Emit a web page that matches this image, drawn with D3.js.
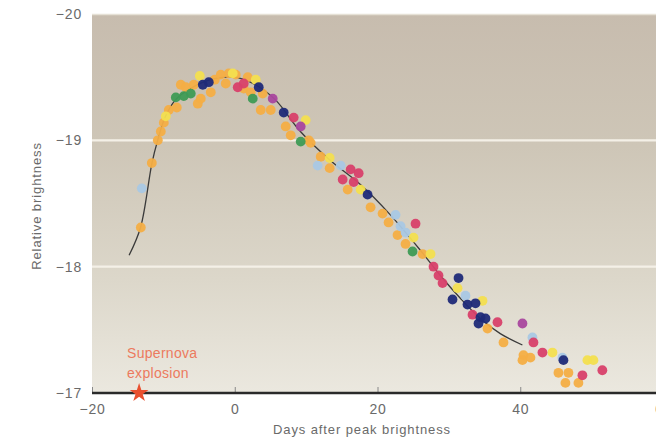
<!DOCTYPE html>
<html><head><meta charset="utf-8">
<script src="https://cdn.jsdelivr.net/npm/d3@7/dist/d3.min.js"></script>
<style>
html,body{margin:0;padding:0;background:#fff;}
svg{display:block;}
text{font-family:"Liberation Sans",Arial,Helvetica,sans-serif;}
</style></head>
<body><svg id="c" width="656" height="438"></svg>
<script>
// ---- data ----
const xTicks = [-20, 0, 20, 40, 60];
const yTicks = [-20, -19, -18, -17];
const xLabel = "Days after peak brightness";
const yLabel = "Relative brightness";
const explosionDay = -13.4;
const explosionLabel = ["Supernova", "explosion"];

// fitted template curve [day, magnitude]
const templateDays = [-14.8,-13.2,-11.6,-10.8,-9.7,-8.3,-6.2,-3.4,0,2.9,5.7,9.2,13.4,17.6,21.8,26.0,28.8,31.6,34.4,37.2,40.3];
const templateMags = [-18.09,-18.31,-18.82,-19.00,-19.19,-19.32,-19.41,-19.48,-19.50,-19.44,-19.32,-19.07,-18.84,-18.65,-18.41,-18.13,-17.93,-17.75,-17.59,-17.47,-17.38];

// observations per supernova (colour group): [day, magnitude]
const orangeObs = [[-13.16,-18.31],[-11.62,-18.82],[-10.78,-19.00],[-10.36,-19.07],[-9.94,-19.14],[-9.24,-19.24],[-8.12,-19.26],[-7.56,-19.44],[-6.86,-19.42],[-5.74,-19.44],[-5.18,-19.29],[-4.76,-19.33],[-3.36,-19.38],[-2.80,-19.48],[-1.96,-19.52],[-1.26,-19.45],[-0.84,-19.53],[0.14,-19.52],[1.26,-19.41],[1.82,-19.50],[2.24,-19.38],[3.92,-19.37],[3.64,-19.24],[5.04,-19.24],[7.14,-19.11],[7.84,-19.04],[10.36,-19.00],[10.64,-18.98],[12.04,-18.87],[13.30,-18.78],[15.82,-18.61],[19.03,-18.47],[20.71,-18.42],[21.55,-18.35],[22.81,-18.25],[23.93,-18.18],[26.31,-18.10],[35.41,-17.51],[37.65,-17.40],[40.45,-17.30],[40.31,-17.26],[41.43,-17.28],[45.35,-17.16],[46.75,-17.16],[46.33,-17.08],[48.15,-17.08]];
const yellowObs = [[-9.66,-19.19],[-4.90,-19.51],[-0.28,-19.53],[2.94,-19.48],[9.94,-19.16],[13.30,-18.86],[17.64,-18.61],[25.05,-18.23],[27.43,-18.10],[31.21,-17.83],[34.71,-17.73],[44.51,-17.32],[49.41,-17.26],[50.25,-17.26]];
const greenObs = [[-8.26,-19.34],[-7.14,-19.35],[-6.16,-19.37],[2.52,-19.33],[9.24,-18.99],[24.91,-18.12]];
const navyObs = [[-4.48,-19.44],[-3.64,-19.46],[3.36,-19.42],[6.86,-19.22],[18.61,-18.57],[31.35,-17.91],[30.51,-17.74],[32.61,-17.70],[33.73,-17.71],[34.43,-17.60],[34.15,-17.55],[35.13,-17.59],[46.05,-17.26]];
const pinkObs = [[0.42,-19.42],[1.26,-19.45],[8.26,-19.18],[16.24,-18.77],[17.36,-18.74],[15.12,-18.69],[16.66,-18.67],[25.33,-18.34],[27.85,-18.00],[28.55,-17.93],[29.11,-17.87],[33.31,-17.62],[36.81,-17.56],[41.85,-17.40],[43.11,-17.32],[48.71,-17.14],[51.50,-17.18]];
const purpleObs = [[5.32,-19.33],[9.24,-19.11],[40.31,-17.55]];
const lightBlueObs = [[-13.02,-18.62],[11.62,-18.80],[14.84,-18.80],[22.53,-18.41],[23.23,-18.32],[23.93,-18.27],[32.33,-17.77],[41.71,-17.44],[45.91,-17.28]];

const groups = [
  {name:"orange", color:"#f4ae45", pts:orangeObs},
  {name:"lightblue", color:"#a9c8e4", pts:lightBlueObs},
  {name:"yellow", color:"#f3df4f", pts:yellowObs},
  {name:"green", color:"#3e9b55", pts:greenObs},
  {name:"purple", color:"#a9479e", pts:purpleObs},
  {name:"pink", color:"#d8406a", pts:pinkObs},
  {name:"navy", color:"#1f2a78", pts:navyObs}
];

// ---- drawing ----
const svg = d3.select("#c");
const x = d3.scaleLinear().domain([-20, 60]).range([92, 663]);
const y = d3.scaleLinear().domain([-20, -17]).range([14, 393]);
const fmt = d3.format("d");

const defs = svg.append("defs");
const grad = defs.append("linearGradient").attr("id","bg").attr("x1",0).attr("y1",0).attr("x2",0).attr("y2",1);
grad.append("stop").attr("offset","0").attr("stop-color","#c7bcae");
grad.append("stop").attr("offset","0.35").attr("stop-color","#cec6b7");
grad.append("stop").attr("offset","0.7").attr("stop-color","#dcd7ca");
grad.append("stop").attr("offset","1").attr("stop-color","#ebe8df");

svg.append("rect").attr("x", x(-20)).attr("y", y(-20)).attr("width", 656 - x(-20)).attr("height", y(-17) - y(-20)).attr("fill","url(#bg)");
svg.append("line").attr("x1", x(-20)).attr("x2", 656).attr("y1", y(-20)+0.5).attr("y2", y(-20)+0.5).attr("stroke","#e6e1d6").attr("stroke-width",1.5);

// gridlines
svg.append("g").selectAll("line").data([-19,-18]).join("line")
  .attr("x1", x(-20)).attr("x2", 656).attr("y1", d=>y(d)).attr("y2", d=>y(d))
  .attr("stroke","#f4f0e7").attr("stroke-width",2.2);

// template curve
const line = d3.line().x(d=>x(d[0])).y(d=>y(d[1])).curve(d3.curveCatmullRom.alpha(0.5));
svg.append("path").datum(templateDays.map((d,i)=>[d, templateMags[i]]))
  .attr("d", line).attr("fill","none").attr("stroke","#3a3a3a").attr("stroke-width",1.3);

// dots
groups.forEach(g => {
  svg.append("g").selectAll("circle").data(g.pts).join("circle")
    .attr("cx", d=>x(d[0])).attr("cy", d=>y(d[1])).attr("r", 4.9)
    .attr("fill", g.color).attr("fill-opacity", 0.95);
});

// x axis
const xAxis = svg.append("g").attr("transform", `translate(0,${y(-17)})`)
  .call(d3.axisBottom(x).tickValues(xTicks).tickFormat(fmt).tickSize(-6).tickPadding(11));
xAxis.select(".domain").remove();
xAxis.selectAll(".tick line").attr("stroke","#888").attr("stroke-width",1);
xAxis.selectAll(".tick text").attr("fill","#6a6a6a").style("font-size","14px").style("letter-spacing","0.8px");
svg.append("line").attr("x1", x(-20)).attr("x2", 656).attr("y1", y(-17)).attr("y2", y(-17)).attr("stroke","#2a2a2a").attr("stroke-width",2.6);

// y axis
const yAxis = svg.append("g").attr("transform", `translate(${x(-20)},0)`)
  .call(d3.axisLeft(y).tickValues(yTicks).tickFormat(fmt).tickSize(0).tickPadding(10));
yAxis.select(".domain").remove();
yAxis.selectAll(".tick text").attr("fill","#6a6a6a").style("font-size","14px").style("letter-spacing","0.8px");

// axis titles
svg.append("text").attr("x", 362).attr("y", 434).attr("text-anchor","middle")
  .attr("fill","#6a6a6a").style("font-size","13px").style("letter-spacing","0.9px").text(xLabel);
svg.append("text").attr("transform","translate(41,206) rotate(-90)").attr("text-anchor","middle")
  .attr("fill","#6a6a6a").style("font-size","13px").style("letter-spacing","0.9px").text(yLabel);

// explosion marker
const star = d3.symbol().type(d3.symbolStar).size(110);
svg.append("path").attr("d", star()).attr("transform", `translate(${x(explosionDay)},${y(-17)})`).attr("fill","#e9502f");
svg.append("g").selectAll("text").data(explosionLabel).join("text")
  .attr("x", 127).attr("y", (d,i)=> 358 + i*20)
  .attr("fill","#ec7a5e").style("font-size","14px").style("letter-spacing","0.3px").text(d=>d);
</script></body></html>
